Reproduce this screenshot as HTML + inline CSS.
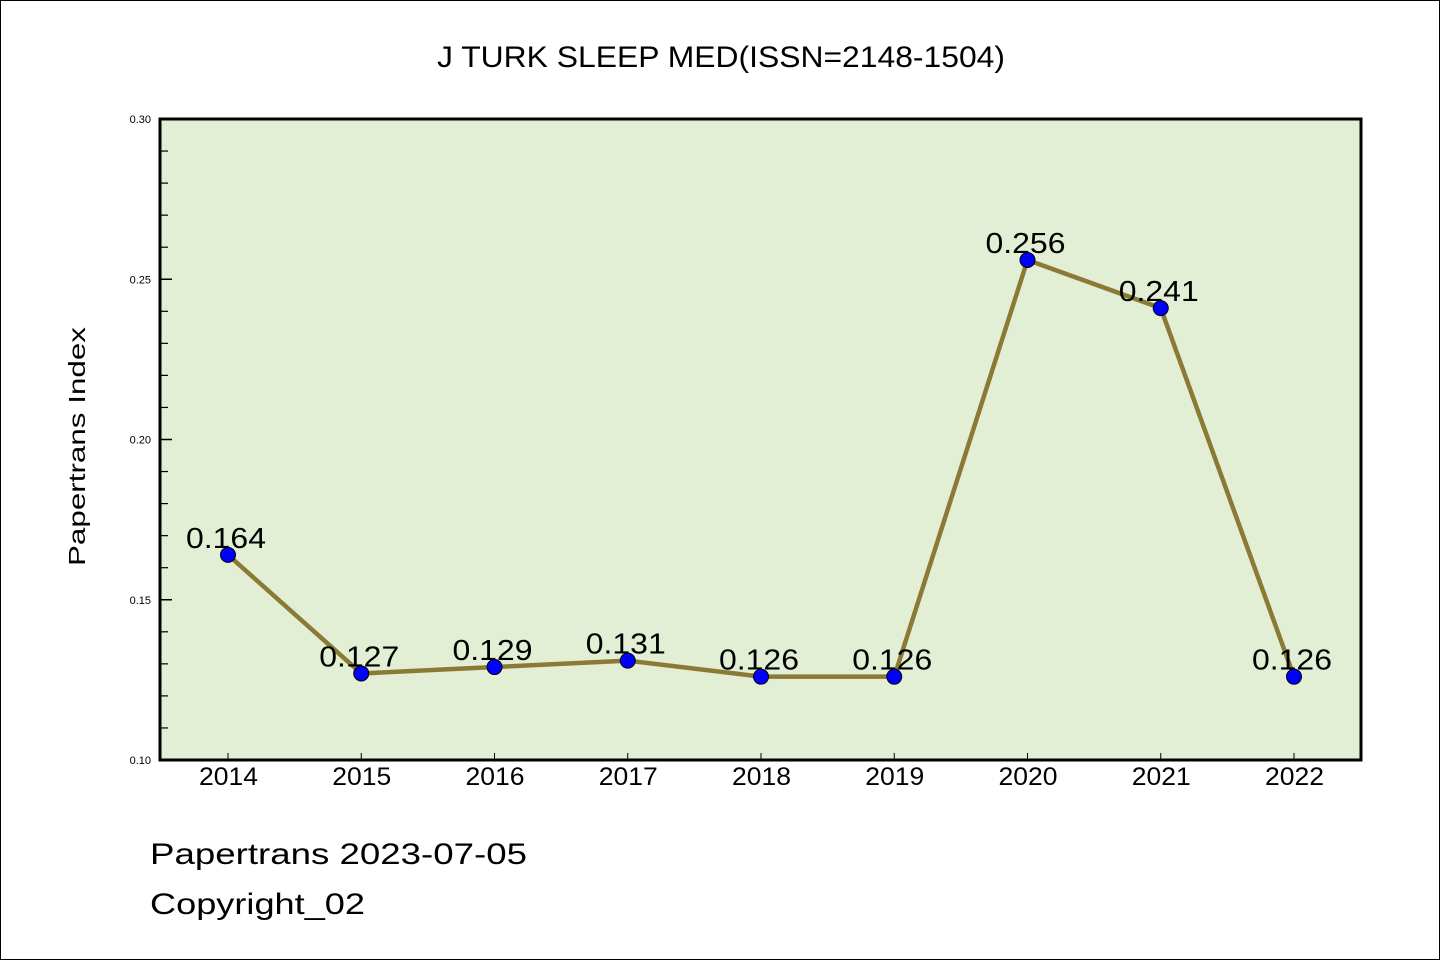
<!DOCTYPE html>
<html><head><meta charset="utf-8"><style>
html,body{margin:0;padding:0;background:#fff}
body{width:1440px;height:960px;overflow:hidden}
svg{display:block}
text{font-family:"WenQuanYi Zen Hei","Liberation Sans",sans-serif}
</style></head><body>
<svg id="chart" width="1440" height="960">
<rect x="0.5" y="0.5" width="1439" height="959" fill="#fff" stroke="#000"/>
<text x="437" y="67" font-size="30" textLength="568" lengthAdjust="spacingAndGlyphs">J TURK SLEEP MED(ISSN=2148-1504)</text>
<rect x="160" y="119" width="1201" height="641" fill="#e2efd5"/>
<g id="ticks"></g>
<g id="series"></g>
<rect x="160" y="119" width="1201" height="641" fill="none" stroke="#000" stroke-width="3"/>
<text transform="translate(85,566) rotate(-90)" font-size="23" textLength="239" lengthAdjust="spacingAndGlyphs">Papertrans Index</text>
<text x="150" y="864" font-size="30" textLength="377" lengthAdjust="spacingAndGlyphs">Papertrans 2023-07-05</text>
<text x="150" y="914" font-size="30" textLength="215" lengthAdjust="spacingAndGlyphs">Copyright_02</text>
</svg>
<script>
const years = ["2014","2015","2016","2017","2018","2019","2020","2021","2022"];
const values = [0.164,0.127,0.129,0.131,0.126,0.126,0.256,0.241,0.126];
const yTicks = [0.10,0.15,0.20,0.25,0.30];
const yTickLabels = ["0.10","0.15","0.20","0.25","0.30"];
const yMinorTicks = [0.11,0.12,0.13,0.14,0.16,0.17,0.18,0.19,0.21,0.22,0.23,0.24,0.26,0.27,0.28,0.29];

const NS="http://www.w3.org/2000/svg";
const X0=228, X1=1294, Y0=760, Y1=119, VMIN=0.10, VMAX=0.30;
function xs(i){return X0+(X1-X0)*i/(years.length-1);}
function ys(v){return Y0-(v-VMIN)/(VMAX-VMIN)*(Y0-Y1);}
function mk(tag,attrs,parent){const e=document.createElementNS(NS,tag);for(const k in attrs)e.setAttribute(k,attrs[k]);parent.appendChild(e);return e;}
const tg=document.getElementById('ticks'), sg=document.getElementById('series');

yTicks.forEach((v,i)=>{
  const y=ys(v);
  const l=mk('line',{x1:160,x2:172,y1:y,y2:y,stroke:'#000','stroke-width':1.5},tg);
  
  
  const t=mk('text',{x:151,y:y+4,'text-anchor':'end','font-size':11},tg);
  t.textContent=yTickLabels[i];
  
  
});
yMinorTicks.forEach(v=>{
  const y=ys(v);
  const l=mk('line',{x1:160,x2:168,y1:y,y2:y,stroke:'#000','stroke-width':1.2},tg);
  
  
});
years.forEach((yr,i)=>{
  const x=xs(i);
  const l=mk('line',{x1:x,x2:x,y1:760,y2:753,stroke:'#000','stroke-width':1},tg);
  
  
  const t=mk('text',{x:x-29,y:785,'font-size':25,textLength:59,lengthAdjust:'spacingAndGlyphs'},tg);
  t.textContent=yr;
  
  
});
const pts=values.map((v,i)=>xs(i)+','+ys(v)).join(' ');
const line=mk('polyline',{points:pts,fill:'none',stroke:'#8b7a35','stroke-width':4.5,'stroke-linejoin':'round'},sg);


values.forEach((v,i)=>{
  const c=mk('circle',{cx:xs(i),cy:ys(v),r:7.5,fill:'#0000ff',stroke:'#000','stroke-width':1},sg);
  
  
});
values.forEach((v,i)=>{
  const t=mk('text',{x:xs(i)-42,y:ys(v)-7,'font-size':29,textLength:80,lengthAdjust:'spacingAndGlyphs'},sg);
  t.textContent=v.toFixed(3);
  
  
});
</script>
</body></html>
